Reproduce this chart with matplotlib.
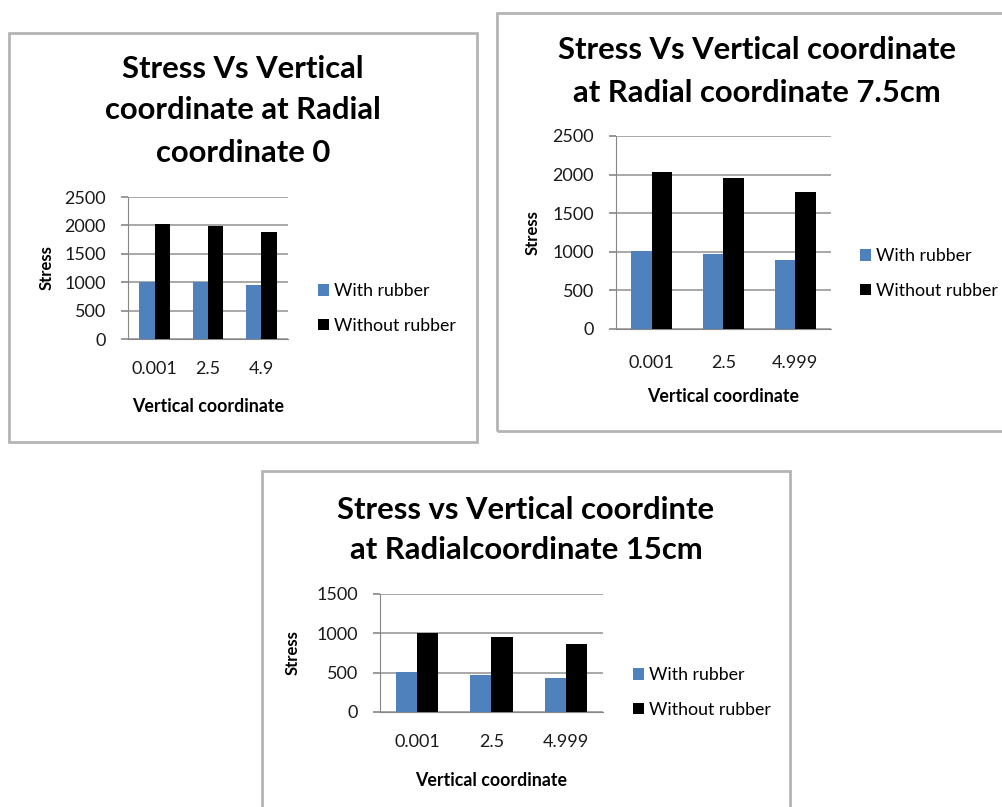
import matplotlib.pyplot as plt
from matplotlib.patches import Rectangle

plt.rcParams['font.family'] = ['Lato', 'DejaVu Sans']

W, H = 1003, 807

# data for the three charts
categories_1 = ['0.001', '2.5', '4.9']
with_rubber_1 = [1010, 1000, 950]
without_rubber_1 = [2020, 1990, 1890]

categories_2 = ['0.001', '2.5', '4.999']
with_rubber_2 = [1010, 970, 890]
without_rubber_2 = [2030, 1960, 1780]

categories_3 = ['0.001', '2.5', '4.999']
with_rubber_3 = [505, 470, 430]
without_rubber_3 = [1010, 950, 860]

series_labels = ['With rubber', 'Without rubber']
BLUE = '#4F81BD'
GRID = '#9a9a9a'


def px_rect(x0, y0, x1, y1):
    return [x0 / W, 1 - y1 / H, (x1 - x0) / W, (y1 - y0) / H]


def fx(x):
    return x / W


def fy(y):
    return 1 - y / H


def draw_box(fig, x0, y0, x1, y1):
    fig.patches.append(Rectangle((fx(x0), fy(y1)), fx(x1 - x0), (y1 - y0) / H,
                                 transform=fig.transFigure, fill=False,
                                 edgecolor='#b4b4b4', linewidth=2.0))


def draw_chart(fig, plot_px, cats, s1, s2, ymax, title_lines, title_x, title_ys,
               legend_xy, xlab_y, ylab_x, xtick_pad):
    x0, y0, x1, y1 = plot_px
    ax = fig.add_axes(px_rect(x0, y0, x1, y1))
    xs = list(range(len(cats)))
    w = 0.286
    ax.bar([x - w / 2 for x in xs], s1, width=w, color=BLUE, label=series_labels[0], zorder=3)
    ax.bar([x + w / 2 for x in xs], s2, width=w, color='black', label=series_labels[1], zorder=3)
    ax.set_xlim(-0.5, len(cats) - 0.5)
    ax.set_ylim(0, ymax)
    ax.set_yticks(range(0, ymax + 1, 500))
    ax.set_xticks(xs)
    ax.set_xticklabels(cats)
    ax.yaxis.grid(True, color=GRID, linewidth=1.2, zorder=0)
    for s in ['top', 'right']:
        ax.spines[s].set_visible(False)
    ax.spines['left'].set_color('#868686')
    ax.spines['bottom'].set_color('#868686')
    ax.tick_params(axis='y', length=5, width=1.2, color='#868686', pad=11,
                   labelsize=13, labelcolor='#1a1a1a')
    ax.tick_params(axis='x', length=0, pad=xtick_pad, labelsize=13, labelcolor='#1a1a1a')

    ax.set_xlabel('Vertical coordinate', fontsize=12.8, fontweight='bold')
    ax.set_ylabel('Stress', fontsize=12, fontweight='bold')
    ax.xaxis.set_label_coords(0.5, (y1 - xlab_y) / (y1 - y0))
    ax.xaxis.label.set_va('center')
    ax.yaxis.set_label_coords((ylab_x - x0) / (x1 - x0), 0.5)
    ax.yaxis.label.set_va('center')

    for line, ty in zip(title_lines, title_ys):
        fig.text(fx(title_x), fy(ty), line, ha='center', va='center',
                 fontsize=22.3, fontweight='bold')

    lx, ly = legend_xy
    ax.legend(loc='center left', bbox_to_anchor=(fx(lx), fy(ly)),
              bbox_transform=fig.transFigure, frameon=False, fontsize=12.8,
              handlelength=0.6, handleheight=0.6, handletextpad=0.3,
              labelspacing=1.05, borderpad=0, borderaxespad=0)
    return ax


fig = plt.figure(figsize=(W / 100, H / 100), dpi=100)

draw_box(fig, 9, 33, 477, 442)
draw_box(fig, 497, 13, 1010, 431)
draw_box(fig, 262, 471, 790, 830)

draw_chart(fig, (128, 197, 288, 339), categories_1, with_rubber_1, without_rubber_1, 2500,
           ['Stress Vs Vertical', 'coordinate at Radial', 'coordinate 0'],
           243, [69, 110, 153], (318, 308.5), 407, 47, 15.5)

draw_chart(fig, (616, 136, 831, 329), categories_2, with_rubber_2, without_rubber_2, 2500,
           ['Stress Vs Vertical coordinate', 'at Radial coordinate 7.5cm'],
           757, [50, 93], (860, 273.5), 397, 533, 18.5)

draw_chart(fig, (380, 594, 603, 712), categories_3, with_rubber_3, without_rubber_3, 1500,
           ['Stress vs Vertical coordinte', 'at Radialcoordinate 15cm'],
           526, [510, 550], (633, 692.5), 780, 293, 16)

fig.savefig('out.png', dpi=100)
